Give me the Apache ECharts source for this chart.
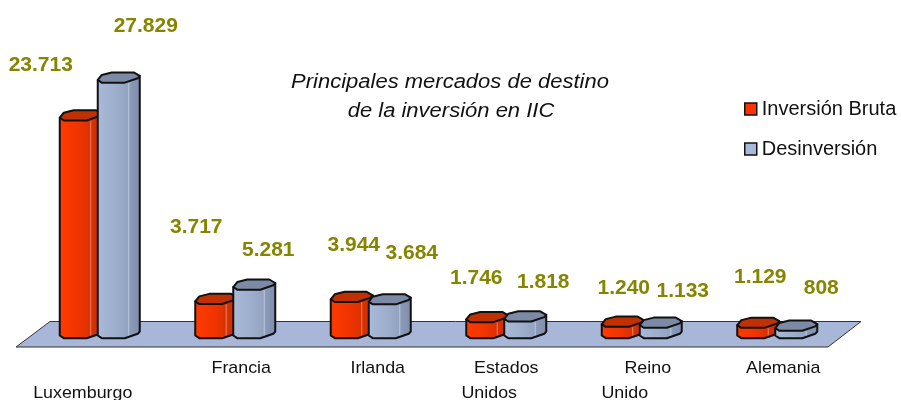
<!DOCTYPE html>
<html>
<head>
<meta charset="utf-8">
<style>
  html, body { margin: 0; padding: 0; background: #fff; }
  #chart { width: 901px; height: 400px; }
</style>
<script src="https://cdn.jsdelivr.net/npm/echarts@6/dist/echarts.min.js"></script>
</head>
<body>
<div id="chart"></div>
<script>
  const categories = ['Luxemburgo', 'Francia', 'Irlanda', 'Estados Unidos', 'Reino Unido', 'Alemania'];
  const inversionBruta = [23713, 3717, 3944, 1746, 1240, 1129];
  const desinversion = [27829, 5281, 3684, 1818, 1133, 808];

  // label offsets, from the middle of the group and the top of the bar
  const brutaLabelDx = [-57, -37, -15, -28, -16, -15];
  const brutaLabelDy = [-50, -72, -52, -39, -34, -46];
  const desinvLabelDx = [48, 35, 43, 39, 43, 46];
  const desinvLabelDy = [-51, -35, -46, -34, -32, -38];
  // category text sits on two rows, each line with its own shift
  const catLabelDx = [[-15], [8], [9], [2, -15], [8, -15], [8]];
  const catLabelRow = [1, 0, 0, 0, 0, 0];

  const FONT = '"Liberation Sans", Arial, sans-serif';
  const OLIVE = '#858500';

  function gradient(stops) {
    return new echarts.graphic.LinearGradient(0, 0, 1, 0,
      stops.map(s => ({offset: s[0], color: s[1]})));
  }
  const redFill = gradient([[0, '#ff3a00'], [0.45, '#f03400'], [0.7, '#dc3100'], [1, '#c62f00']]);
  const blueFill = gradient([[0, '#aabbd9'], [0.45, '#9dadcc'], [0.72, '#92a2c0'], [0.76, '#8a9ab8'], [1, '#7d8caa']]);

  function fmt(v) {
    return String(v).replace(/\B(?=(\d{3})+$)/g, '.');
  }

  // text stretched sideways, the reference type runs wider than Liberation
  function wideText(text, x, y, font, fill, scaleX) {
    return {
      type: 'text', x: x, y: y, scaleX: scaleX, z2: 50,
      style: {text: text, x: 0, y: 0, align: 'center', verticalAlign: 'middle', font: font, fill: fill}
    };
  }

  // one octagonal column, drawn from the value through the axis scale
  function barItem(params, api, cfg) {
    const i = api.value(0);
    const v = api.value(1);
    const top = api.coord([i, v]);
    const base = api.coord([i, 0]);
    const x = top[0] + cfg.shift;
    const w = 42;
    const s = (px, py, y) => [x + px, y + py];
    const face = [[0, 2], [4, -3], [14, -5.5], [36, -5.5], [42, -2], [40, 0.3], [27, 4.7], [4, 4.7]]
      .map(p => s(p[0], p[1], top[1]));
    const body = [s(0, 2, top[1]), s(0, 2, base[1]), s(4, 4.7, base[1]), s(27, 4.7, base[1]),
      s(40, 0.3, base[1]), s(w, -2, base[1]), s(w, -2, top[1])];
    const line = {stroke: '#111', lineWidth: 2, lineJoin: 'round'};
    return {
      type: 'group',
      children: [
        {type: 'polygon', shape: {points: body}, style: Object.assign({fill: cfg.fill}, line)},
        {type: 'line', shape: {x1: x + 31, y1: top[1] + 5, x2: x + 31, y2: base[1] + 2},
          style: {stroke: 'rgba(255,255,255,0.4)', lineWidth: 1}},
        {type: 'polygon', shape: {points: face}, style: Object.assign({fill: cfg.topFill}, line)},
        wideText(fmt(v), top[0] + cfg.dx[i], top[1] + cfg.dy[i], 'bold 20px ' + FONT, OLIVE, 1.05)
      ]
    };
  }

  function catItem(params, api) {
    const i = api.value(0);
    const base = api.coord([i, 0]);
    const lines = categories[i].split(' ');
    return {
      type: 'group',
      children: lines.map((t, k) => wideText(t, base[0] + catLabelDx[i][k],
        base[1] + 34.5 + (catLabelRow[i] + k) * 25, '17px ' + FONT, '#111', 1.05))
    };
  }

  const chart = echarts.init(document.getElementById('chart'));
  chart.setOption({
    animation: false,
    backgroundColor: '#fff',
    grid: {left: 30, top: 58, width: 813, height: 275.5},
    xAxis: {type: 'category', data: categories, show: false},
    yAxis: {type: 'value', min: 0, max: 30000, show: false},
    legend: {
      orient: 'vertical', left: 739, top: 94,
      itemWidth: 12, itemHeight: 12, itemGap: 20,
      selectedMode: false,
      icon: 'rect',
      data: ['Inversión Bruta', 'Desinversión'],
      textStyle: {fontFamily: FONT, fontSize: 20, color: '#111'},
      itemStyle: {borderColor: '#111', borderWidth: 1.5}
    },
    graphic: [
      {type: 'polygon', z: 0, shape: {points: [[16, 347], [50, 321.5], [861, 321.5], [828, 347]]},
        style: {fill: '#a8b6d8', stroke: '#333', lineWidth: 1}},
      Object.assign(wideText('Principales mercados de destino', 450, 82, 'italic 20px ' + FONT, '#111', 1.1), {z: 10}),
      Object.assign(wideText('de la inversión en IIC', 451, 111, 'italic 20px ' + FONT, '#111', 1.1), {z: 10})
    ],
    series: [
      {
        name: 'Inversión Bruta', type: 'custom', z: 3,
        itemStyle: {color: '#ff3300'},
        encode: {x: 0, y: 1},
        data: inversionBruta.map((v, i) => [i, v]),
        renderItem: (p, api) => barItem(p, api, {shift: -38, fill: redFill, topFill: '#c03000', dx: brutaLabelDx, dy: brutaLabelDy})
      },
      {
        name: 'Desinversión', type: 'custom', z: 4,
        itemStyle: {color: '#a8b8d8'},
        encode: {x: 0, y: 1},
        data: desinversion.map((v, i) => [i, v]),
        renderItem: (p, api) => barItem(p, api, {shift: 0, fill: blueFill, topFill: '#7c8aa5', dx: desinvLabelDx, dy: desinvLabelDy})
      },
      {
        name: 'etiquetas', type: 'custom', z: 5, silent: true,
        encode: {x: 0, y: 1},
        data: categories.map((c, i) => [i, 0]),
        renderItem: catItem
      }
    ]
  });
</script>
</body>
</html>
